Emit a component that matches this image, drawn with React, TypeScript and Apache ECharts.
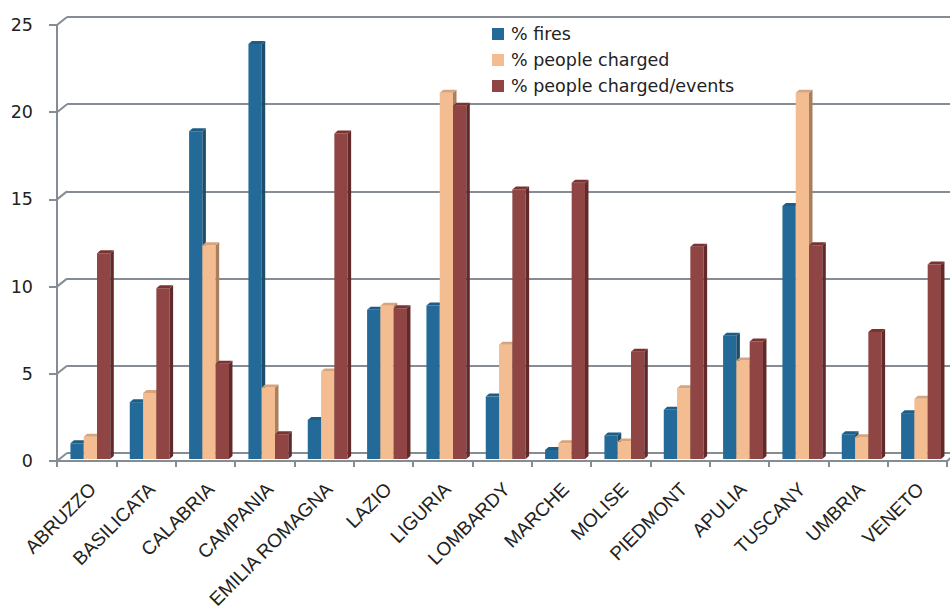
import React, { useEffect, useRef } from "react";
import * as echarts from "echarts";

const categories = [
  "ABRUZZO", "BASILICATA", "CALABRIA", "CAMPANIA", "EMILIA ROMAGNA",
  "LAZIO", "LIGURIA", "LOMBARDY", "MARCHE", "MOLISE",
  "PIEDMONT", "APULIA", "TUSCANY", "UMBRIA", "VENETO",
];
const seriesNames = ["% fires", "% people charged", "% people charged/events"];
const fires = [0.9, 3.26, 18.8, 23.8, 2.24, 8.56, 8.8, 3.58, 0.52, 1.35, 2.82, 7.07, 14.5, 1.42, 2.63];
const peopleCharged = [1.28, 3.78, 12.26, 4.1, 5.02, 8.79, 21.0, 6.55, 0.9, 1.0, 4.06, 5.65, 21.0, 1.25, 3.45];
const chargedPerEvent = [11.8, 9.79, 5.46, 1.42, 18.66, 8.64, 20.25, 15.46, 15.84, 6.15, 12.17, 6.74, 12.26, 7.28, 11.15];
const yTicks = [0, 5, 10, 15, 20, 25];

const frontColors = ["#236A98", "#F3BC91", "#8F4543"];
const sideColors = ["#1D4D6C", "#A6805F", "#62292A"];
const topColors = ["#1E5D86", "#D9A47C", "#7A3330"];
const gridColor = "#858C93";
const textColor = "#222222";

// depth of the whole floor / wall and of a single bar (pixels)
const WALL_DX = 10;
const WALL_DY = 8;
const BAR_DX = 3.5;
const BAR_DY = 3;

function makeBarSeries(idx: number, values: number[]) {
  return {
    type: "custom",
    name: seriesNames[idx],
    xAxisIndex: 0,
    yAxisIndex: 0,
    clip: false,
    itemStyle: { color: frontColors[idx] },
    data: values.map((v, i) => [i, v]),
    renderItem: (params: any, api: any) => {
      const ci = api.value(0);
      const v = api.value(1);
      const topPt = api.coord([ci, v]);
      const basePt = api.coord([ci, 0]);
      const band = api.size([1, 0])[0];
      const barW = band * 0.224;
      const x0 = topPt[0] - 1.5 * barW + idx * barW + 3.7;
      const yTop = topPt[1] - 2;
      const yBase = basePt[1] - 2;
      const x1 = x0 + barW;
      return {
        type: "group",
        children: [
          {
            type: "rect",
            shape: { x: x0, y: yTop, width: barW, height: yBase - yTop },
            style: { fill: frontColors[idx] },
          },
          {
            type: "polygon",
            shape: {
              points: [
                [x1, yTop],
                [x1 + BAR_DX, yTop - BAR_DY],
                [x1 + BAR_DX, yBase - BAR_DY],
                [x1, yBase],
              ],
            },
            style: { fill: sideColors[idx] },
          },
          {
            type: "polygon",
            shape: {
              points: [
                [x0, yTop],
                [x0 + BAR_DX, yTop - BAR_DY],
                [x1 + BAR_DX, yTop - BAR_DY],
                [x1, yTop],
              ],
            },
            style: { fill: topColors[idx] },
          },
        ],
      };
    },
  };
}

export default function App() {
  const ref = useRef<HTMLDivElement>(null);

  useEffect(() => {
    if (!ref.current) return;
    const chart = echarts.init(ref.current, undefined, { renderer: "svg" });

    chart.setOption({
      animation: false,
      backgroundColor: "#ffffff",
      color: frontColors,
      grid: [
        { left: 57, top: 25, width: 890, height: 436 },
        { left: 57 + WALL_DX, top: 25 - WALL_DY, right: 0, height: 436 },
        { left: 63, top: 25, width: 890, height: 436 },
      ],
      legend: {
        orient: "vertical",
        left: 487,
        top: 20,
        itemWidth: 12,
        itemHeight: 12,
        itemGap: 8,
        icon: "rect",
        data: seriesNames,
        textStyle: {
          fontFamily: "DejaVu Sans",
          fontSize: 17.5,
          color: textColor,
          padding: [0, 0, 0, 2],
        },
      },
      xAxis: [
        {
          type: "category",
          gridIndex: 0,
          data: categories,
          boundaryGap: true,
          axisLine: { show: true, lineStyle: { color: gridColor, width: 2 } },
          axisTick: { show: true, interval: 0, length: 6, lineStyle: { color: gridColor, width: 2 } },
          axisLabel: { show: false },
          splitLine: { show: false },
        },
        {
          type: "category",
          gridIndex: 1,
          data: categories,
          show: false,
        },
        {
          type: "category",
          gridIndex: 2,
          data: categories,
          axisLine: { show: false },
          axisTick: { show: false },
          splitLine: { show: false },
          axisLabel: {
            show: true,
            interval: 0,
            rotate: 45,
            margin: 29,
            fontFamily: "Liberation Sans",
            fontSize: 19,
            color: textColor,
          },
        },
      ],
      yAxis: [
        {
          type: "value",
          gridIndex: 0,
          min: 0,
          max: 25,
          interval: 5,
          axisLine: { show: true, lineStyle: { color: gridColor, width: 2 } },
          axisTick: { show: true, length: 8, lineStyle: { color: gridColor, width: 2 } },
          axisLabel: {
            show: true,
            margin: 24,
            fontFamily: "DejaVu Sans",
            fontSize: 17.5,
            color: textColor,
          },
          splitLine: { show: false },
        },
        {
          type: "value",
          gridIndex: 1,
          min: 0,
          max: 25,
          interval: 5,
          axisLine: { show: false },
          axisTick: { show: false },
          axisLabel: { show: false },
          splitLine: { show: true, lineStyle: { color: gridColor, width: 2 } },
        },
        {
          type: "value",
          gridIndex: 2,
          min: 0,
          max: 25,
          show: false,
        },
      ],
      series: [
        {
          // diagonal joints between the front axis ticks and the back wall lines
          type: "custom",
          xAxisIndex: 0,
          yAxisIndex: 0,
          clip: false,
          silent: true,
          data: yTicks.map((v) => [0, v]),
          renderItem: (params: any, api: any) => {
            const v = api.value(1);
            const p = api.coord([0, v]);
            const band = api.size([1, 0])[0];
            const xl = p[0] - band / 2;
            const lineStyle = { stroke: gridColor, lineWidth: 2 };
            const children: any[] = [
              { type: "line", shape: { x1: xl, y1: p[1], x2: xl + WALL_DX, y2: p[1] - WALL_DY }, style: lineStyle },
            ];
            if (v === 0) {
              const xr = api.coord([categories.length - 1, 0])[0] + band / 2;
              children.push({
                type: "line",
                shape: { x1: xr, y1: p[1], x2: xr + WALL_DX, y2: p[1] - WALL_DY },
                style: lineStyle,
              });
            }
            return { type: "group", children };
          },
        },
        makeBarSeries(0, fires),
        makeBarSeries(1, peopleCharged),
        makeBarSeries(2, chargedPerEvent),
      ],
    });

    return () => chart.dispose();
  }, []);

  return (
    <div
      ref={ref}
      style={{ position: "absolute", left: 0, top: 0, width: 950, height: 612 }}
    />
  );
}
